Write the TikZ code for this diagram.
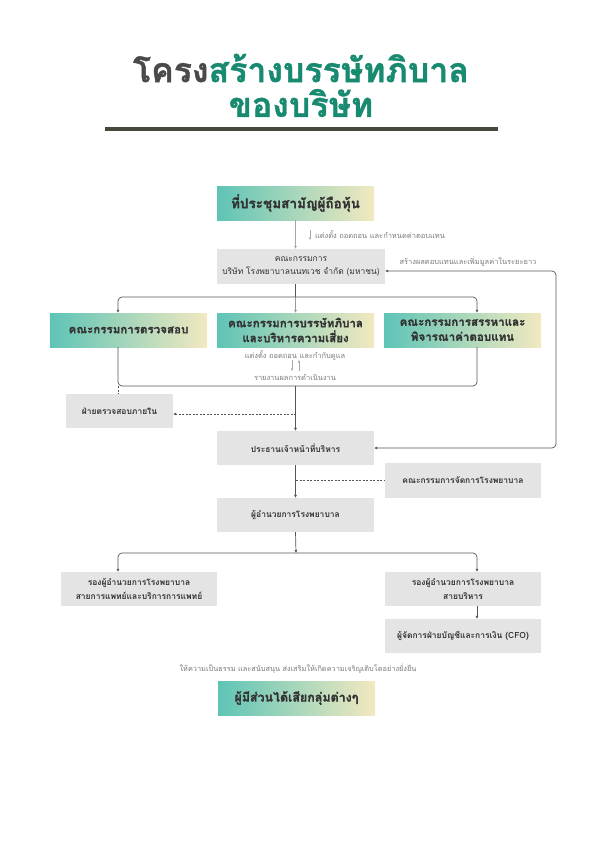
\documentclass[tikz,border=0pt]{standalone}
\usepackage{fontspec}
\newfontfamily\thaifont[Script=Thai]{Loma}
\newfontfamily\thaiheavy[Script=Thai, FakeBold=1.2]{Loma}
\usetikzlibrary{calc}
\usetikzlibrary{arrows.meta}

\definecolor{tgreen}{HTML}{178A70}
\definecolor{tdark}{HTML}{4A4A4A}
\definecolor{rulec}{HTML}{48473D}
\definecolor{teal1}{HTML}{5EC4B6}
\definecolor{cream1}{HTML}{F2E9C0}
\definecolor{boxg}{HTML}{E4E4E4}
\definecolor{txtd}{HTML}{333333}
\definecolor{lnc}{HTML}{555555}
\definecolor{lbl}{HTML}{7A7A7A}

\begin{document}
\begin{tikzpicture}[x=1bp, y=-1bp,
    every node/.style={font=\thaifont, text=txtd},
    gbox/.style={fill=boxg, minimum width=157bp, minimum height=34bp, inner sep=1bp, align=center,
        font=\thaifont\bfseries\fontsize{8.5}{14}\selectfont},
    cbox/.style={left color=teal1, right color=cream1, minimum width=157bp, minimum height=34bp,
        inner sep=1bp, align=center, font=\thaiheavy\bfseries\fontsize{11.6}{15}\selectfont},
    note/.style={text=lbl, font=\thaifont\fontsize{7.5}{9}\selectfont},
    ln/.style={draw=lnc, line width=0.7bp},
    dl/.style={draw=lnc, line width=0.6bp, dash pattern=on 2bp off 1.5bp},
    tip/.style={-{Latex[length=3bp, width=3bp]}}]
    \useasboundingbox (0,0) rectangle (595,842);

    % title
    \node (T1) at (301,68) {\thaiheavy\fontsize{34}{40}\selectfont\bfseries\color{tdark}โครง\color{tgreen}สร้างบรรษัทภิบาล};
    \node (T2) at (301,103) {\thaiheavy\fontsize{34}{40}\selectfont\bfseries\color{tgreen}ของบริษัท};
    \draw [line width=3.5bp, rulec] (105,129) -- (498,129);

    % shareholders and board
    \node (AGM) at (295.5,203) [cbox, font=\thaiheavy\bfseries\fontsize{13.6}{15}\selectfont] {ที่ประชุมสามัญผู้ถือหุ้น};
    \node (BD) at (301,266.5) [gbox, minimum width=168bp, minimum height=35bp, font=\thaifont\fontsize{8.5}{14}\selectfont] {คณะกรรมการ\\บริษัท โรงพยาบาลนนทเวช จำกัด (มหาชน)};
    \draw [draw=black!35, line width=1.6bp, tip] (AGM.south) -- (AGM.south |- BD.north);
    \coordinate (A1) at (310,230);
    \coordinate (A2) at (310,240);
    \draw [draw=black!35, line width=0.5bp, -{Latex[length=2.5bp, width=2.5bp]}] (A1) -- (A2);
    \node (L1) at (380,235) [note] {แต่งตั้ง ถอดถอน และกำหนดค่าตอบแทน};
    \node (L2) at (468,262) [note] {สร้างผลตอบแทนและเพิ่มมูลค่าในระยะยาว};

    % committees
    \node (C1) at (128.5,330) [cbox] {คณะกรรมการตรวจสอบ};
    \node (C2) at (295.5,330) [cbox] {คณะกรรมการบรรษัทภิบาล\\และบริหารความเสี่ยง};
    \node (C3) at (462.5,330) [cbox] {คณะกรรมการสรรหาและ\\พิจารณาค่าตอบแทน};
    \coordinate (TL) at (118,297);
    \coordinate (TR) at (477,297);
    \draw [ln] (AGM.south |- BD.south) -- (AGM.south |- TL);
    \draw [ln, tip, rounded corners=4bp] (AGM.south |- TL) -- (TL) -- (TL |- C1.north);
    \draw [ln, tip, rounded corners=4bp] (AGM.south |- TL) -- (TR) -- (TR |- C3.north);
    \draw [draw=black!40, line width=1.2bp, tip] (AGM.south |- TL) -- (C2.north);

    \node (L3) at (295,356) [note] {แต่งตั้ง ถอดถอน และกำกับดูแล};
    \node (L4) at (295,377) [note] {รายงานผลการดำเนินงาน};
    \coordinate (D1) at (292,360);
    \coordinate (D2) at (292,371);
    \coordinate (U1) at (299,371);
    \coordinate (U2) at (299,360);
    \draw [draw=black!35, line width=0.5bp, -{Latex[length=2.5bp, width=2.5bp]}] (D1) -- (D2);
    \draw [draw=black!35, line width=0.5bp, -{Latex[length=2.5bp, width=2.5bp]}] (U1) -- (U2);

    % bracket down to management
    \coordinate (BL) at (118,386);
    \coordinate (BR) at (477,386);
    \draw [ln, rounded corners=4bp] (TL |- C1.south) -- (BL) -- (BR) -- (BR |- C3.south);
    \node (IA) at (119.5,411) [gbox, minimum width=107bp] {ฝ่ายตรวจสอบภายใน};
    \node (CEO) at (295.5,448) [gbox] {ประธานเจ้าหน้าที่บริหาร};
    \draw [ln, tip] (AGM.south |- BL) -- (CEO.north);
    \draw [dl] (BL) -- (BL |- IA.north);
    \coordinate (DJ) at (296,414);
    \draw [dl, tip] (DJ) -- (DJ -| IA.east);

    % feedback loop
    \coordinate (FB) at (556,271);
    \draw [ln, {Latex[length=3bp, width=3bp]}-{Latex[length=3bp, width=3bp]}, rounded corners=4bp] (CEO.east) -| (FB) -- (FB -| BD.east);

    \node (MC) at (463,480.5) [gbox, minimum width=156bp, minimum height=35bp] {คณะกรรมการจัดการโรงพยาบาล};
    \node (DIR) at (295.5,515) [gbox] {ผู้อำนวยการโรงพยาบาล};
    \draw [ln, tip] (CEO.south) -- (DIR.north);
    \coordinate (MJ) at (296,480.5);
    \draw [dl] (MJ) -- (MC.west);

    % deputies
    \coordinate (SL) at (118,553);
    \coordinate (SR) at (477,553);
    \coordinate (SM) at (296,553);
    \node (V1) at (139,589) [gbox, minimum width=156bp] {รองผู้อำนวยการโรงพยาบาล\\สายการแพทย์และบริการการแพทย์};
    \node (V2) at (463,589) [gbox, minimum width=156bp] {รองผู้อำนวยการโรงพยาบาล\\สายบริหาร};
    \node (CFO) at (463,636) [gbox, minimum width=156bp] {ผู้จัดการฝ่ายบัญชีและการเงิน (CFO)};
    \draw [ln, tip] (DIR.south) -- (SM);
    \draw [ln, tip, rounded corners=4bp] (SM) -- (SL) -- (SL |- V1.north);
    \draw [ln, tip, rounded corners=4bp] (SM) -- (SR) -- (SR |- V2.north);
    \draw [ln, tip] (SR |- V2.south) -- (SR |- CFO.north);

    % stakeholders
    \node (L5) at (298,669) [note, font=\thaifont\fontsize{7.4}{9}\selectfont] {ให้ความเป็นธรรม และสนับสนุน ส่งเสริมให้เกิดความเจริญเติบโตอย่างยั่งยืน};
    \node (SH) at (296.5,698) [cbox, font=\thaiheavy\bfseries\fontsize{12.5}{14}\selectfont] {ผู้มีส่วนได้เสียกลุ่มต่างๆ};

\end{tikzpicture}
\end{document}
